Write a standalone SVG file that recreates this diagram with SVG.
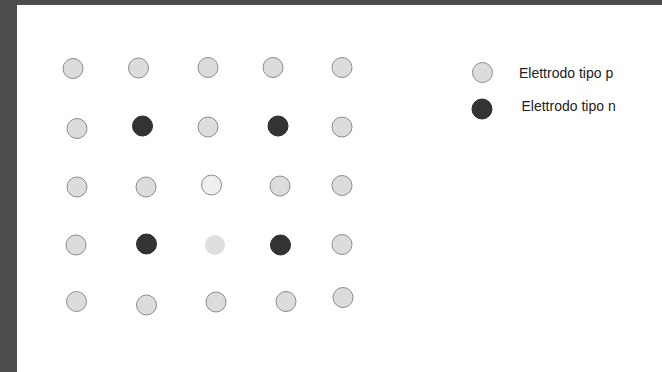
<svg xmlns="http://www.w3.org/2000/svg" width="662" height="372" viewBox="0 0 662 372">
<style>
.p{fill:#dcdcdc;stroke:#8c8c8c;stroke-width:1}
.n{fill:#333333;stroke:#2a2a2a;stroke-width:1}
.w{fill:#efefef;stroke:#8c8c8c;stroke-width:1}
.q{fill:#dedede;stroke:none}
.t{font-family:"Liberation Sans",Arial,sans-serif;font-size:14px;fill:#222222}
</style>
<rect x="0" y="0" width="662" height="372" fill="#4d4d4d"/>
<rect x="17" y="5" width="645" height="367" fill="#ffffff"/>
<g id="grid">
<circle class="p" cx="73" cy="68.5" r="10"/>
<circle class="p" cx="138.5" cy="68" r="10"/>
<circle class="p" cx="208" cy="67.5" r="10"/>
<circle class="p" cx="273" cy="67.5" r="10"/>
<circle class="p" cx="342" cy="67.5" r="10"/>
<circle class="p" cx="77" cy="128.5" r="10"/>
<circle class="n" cx="142.5" cy="126" r="10"/>
<circle class="p" cx="208" cy="127" r="10"/>
<circle class="n" cx="278" cy="126" r="10"/>
<circle class="p" cx="342" cy="127" r="10"/>
<circle class="p" cx="77" cy="187" r="10"/>
<circle class="p" cx="146" cy="187" r="10"/>
<circle class="w" cx="211.5" cy="185" r="10"/>
<circle class="p" cx="280" cy="186" r="10"/>
<circle class="p" cx="342" cy="185.5" r="10"/>
<circle class="p" cx="76" cy="245" r="10"/>
<circle class="n" cx="146.5" cy="244" r="10"/>
<circle class="q" cx="215" cy="245" r="10"/>
<circle class="n" cx="280.5" cy="245" r="10"/>
<circle class="p" cx="342" cy="244.5" r="10"/>
<circle class="p" cx="76.5" cy="301.5" r="10"/>
<circle class="p" cx="146.5" cy="305" r="10"/>
<circle class="p" cx="216" cy="302" r="10"/>
<circle class="p" cx="286" cy="301.5" r="10"/>
<circle class="p" cx="343" cy="297.5" r="10"/>
</g>
<g id="legend-p">
<circle class="p" cx="482.5" cy="72.5" r="10"/>
<text class="t" x="519" y="78">Elettrodo tipo p</text>
</g>
<g id="legend-n">
<circle class="n" cx="482" cy="109" r="10"/>
<text class="t" x="521.5" y="111">Elettrodo tipo n</text>
</g>
<g id="connectors"></g>
</svg>
